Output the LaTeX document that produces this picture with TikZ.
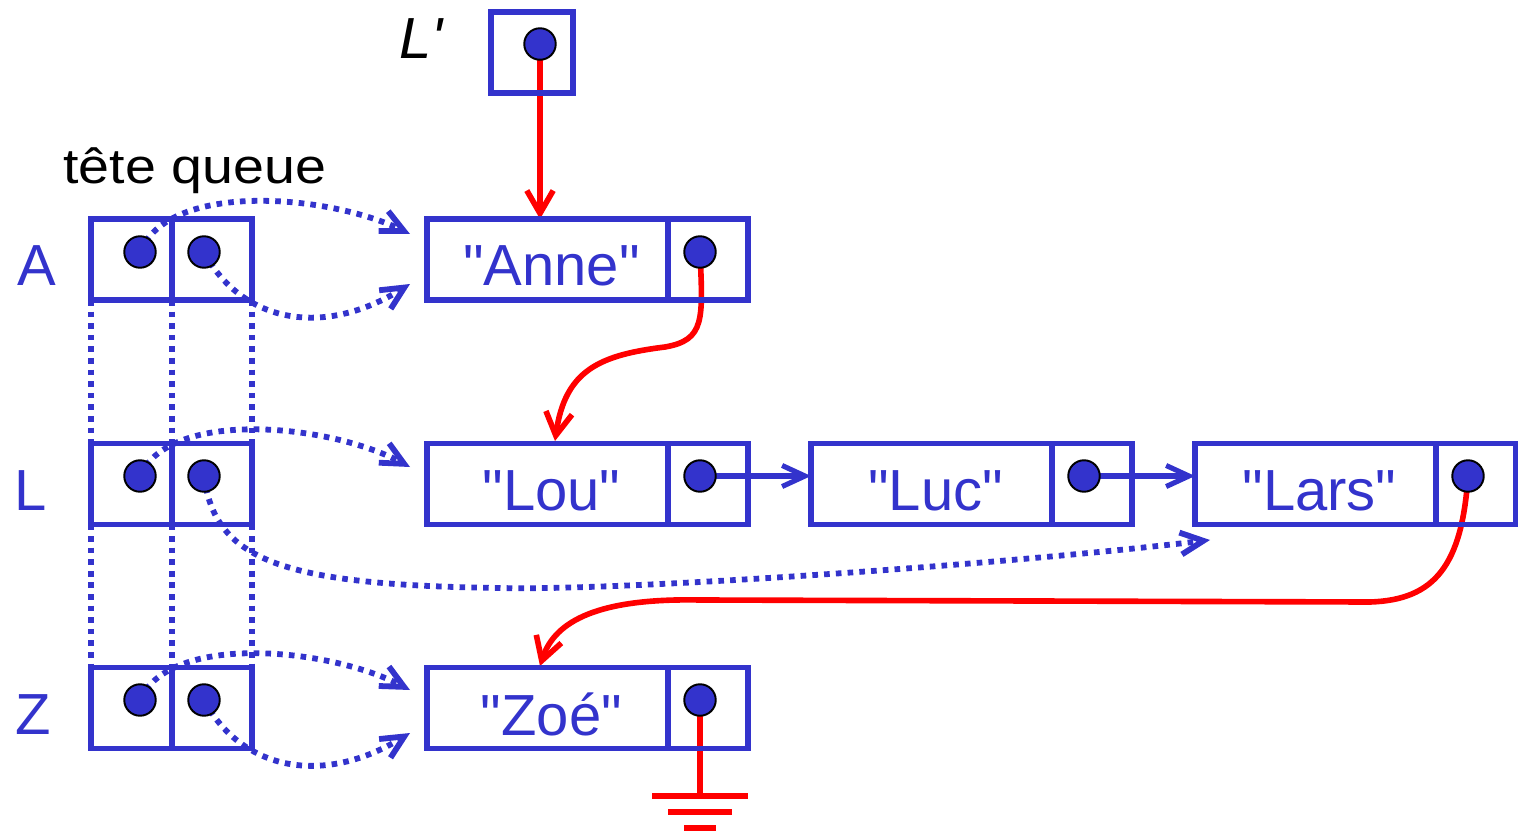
\documentclass[tikz,border=0pt]{standalone}
\usepackage{fontspec}
\setmainfont{Liberation Sans}[Ligatures=TeXOff]
\usetikzlibrary{arrows.meta,backgrounds}
\definecolor{ptrblue}{RGB}{51,51,204}
\definecolor{linkred}{RGB}{255,0,0}

\begin{document}
\begin{tikzpicture}[x=0.02cm,y=-0.02cm,
  cellbox/.style={draw=ptrblue,line width=3.4pt,minimum height=1.62cm,inner sep=0pt,outer sep=0pt},
  datacell/.style={cellbox,minimum width=4.82cm},
  ptrcell/.style={cellbox,minimum width=1.6cm},
  celltext/.style={text=ptrblue,font=\fontsize{33}{40}\selectfont,inner sep=0pt},
  rowlabel/.style={text=ptrblue,font=\fontsize{33}{40}\selectfont,anchor=base west,inner sep=0pt},
  ptrdot/.style={circle,fill=ptrblue,draw=black,line width=1.1pt,minimum size=0.63cm,inner sep=0pt},
  nextlink/.style={draw=ptrblue,line width=2.9pt,-{Straight Barb[length=13pt,width=12pt]}},
  redlink/.style={draw=linkred,line width=3.2pt,-{Straight Barb[length=13pt,width=15pt]}},
  redline/.style={draw=linkred,line width=3.2pt},
  groundbar/.style={draw=linkred,line width=3.4pt},
  viewlink/.style={draw=ptrblue,line width=3.3pt,dash pattern=on 3.2pt off 3.5pt,-{Straight Barb[length=13pt,width=12.5pt]}},
  viewguide/.style={draw=ptrblue,line width=3.4pt,dash pattern=on 3.2pt off 3.4pt},
]
\useasboundingbox (0,0) rectangle (1518,831);

% variable L'
\node[anchor=base west,inner sep=0pt,font=\fontsize{33}{40}\selectfont\itshape] (lpname) at (399,59) {L'};
\node[cellbox,minimum width=1.64cm] (bLp) at (532,52.5) {};
\node[ptrdot] (oLp) at (540,44) {};

% header of the view table
\node[anchor=base west,inner sep=0pt,font=\fontsize{28}{33}\selectfont,xscale=1.13] (hdr) at (63,184) {tête queue};

% view table: head / tail cells per row
\foreach \r/\y/\ly/\lx in {A/259.5/286/17, L/484/510/14, Z/708/734/15}{
  \node[cellbox,minimum width=1.62cm] (h\r) at (131.5,\y) {};
  \node[ptrcell] (q\r) at (212,\y) {};
  \node[rowlabel] (lbl\r) at (\lx,\ly) {\r};
}
\node[ptrdot] (oAh) at (140,252) {};
\node[ptrdot] (oAq) at (204,252) {};
\node[ptrdot] (oLh) at (140,476) {};
\node[ptrdot] (oLq) at (204,476) {};
\node[ptrdot] (oZh) at (140,700) {};
\node[ptrdot] (oZq) at (204,700) {};

% list cells
\foreach \n/\x/\px/\y/\t in {Anne/547.5/708/259.5/"Anne", Lou/547.5/708/484/"Lou", Luc/931.5/1092/484/"Luc", Lars/1315.5/1476/484/"Lars", Zoe/547.5/708/708/"Zoé"}{
  \node[datacell] (d\n) at (\x,\y) {};
  \node[ptrcell] (p\n) at (\px,\y) {};
  \node[celltext] (t\n) at ([xshift=0.08cm,yshift=-0.13cm]d\n.center) {\t};
}
\node[ptrdot] (oAnne) at (700,252) {};
\node[ptrdot] (oLou) at (700,476) {};
\node[ptrdot] (oLuc) at (1084,476) {};
\node[ptrdot] (oLars) at (1468,476) {};
\node[ptrdot] (oZoe) at (700,700) {};

% free ends of the view arrows
\coordinate (eAh) at (410,234);
\coordinate (eAq) at (410,284);
\coordinate (eLh) at (410,467);
\coordinate (eLq) at (1210,540);
\coordinate (eZh) at (410,690);
\coordinate (eZq) at (410,733);
\coordinate (gnd) at (700,796);

\begin{pgfonlayer}{background}
  % dotted guides joining the table rows
  \draw[viewguide] (hA.south west) -- (hL.north west);
  \draw[viewguide] (hA.south east) -- (hL.north east);
  \draw[viewguide] (qA.south east) -- (qL.north east);
  \draw[viewguide] (hL.south west) -- (hZ.north west);
  \draw[viewguide] (hL.south east) -- (hZ.north east);
  \draw[viewguide] (qL.south east) -- (qZ.north east);

  % views: head and tail pointers
  \draw[viewlink] (oAh.center) .. controls (170,180) and (330,195) .. (eAh);
  \draw[viewlink] (oAq.center) .. controls (240,320) and (320,340) .. (eAq);
  \draw[viewlink] (oLh.center) .. controls (170,408) and (330,424) .. (eLh);
  \draw[viewlink] (oLq.center) .. controls (215,560) and (280,585) .. (500,588)
                  .. controls (620,591) and (1000,565) .. (eLq);
  \draw[viewlink] (oZh.center) .. controls (170,632) and (330,648) .. (eZh);
  \draw[viewlink] (oZq.center) .. controls (240,768) and (320,788) .. (eZq);

  % list links
  \draw[nextlink] (oLou.center) -- (oLou.center -| dLuc.west);
  \draw[nextlink] (oLuc.center) -- (oLuc.center -| dLars.west);

  % list L'
  \draw[redlink] (oLp.center) -- (oLp.center |- dAnne.north);
  \draw[redlink] (oAnne.center) .. controls (703,320) and (705,340) .. (665,347)
                 .. controls (600,355) and (565,370) .. (555,441);
  \draw[redlink] (oLars.center) .. controls (1462,565) and (1435,600) .. (1370,602)
                 -- (700,600) .. controls (600,598) and (555,620) .. (540,666);
  \draw[redline] (oZoe.center) -- (gnd);
\end{pgfonlayer}

% ground symbol
\draw[groundbar] ([xshift=-0.96cm]gnd) -- ([xshift=0.96cm]gnd);
\draw[groundbar] ([xshift=-0.64cm,yshift=-0.32cm]gnd) -- ([xshift=0.64cm,yshift=-0.32cm]gnd);
\draw[groundbar] ([xshift=-0.32cm,yshift=-0.64cm]gnd) -- ([xshift=0.32cm,yshift=-0.64cm]gnd);
\end{tikzpicture}
\end{document}
